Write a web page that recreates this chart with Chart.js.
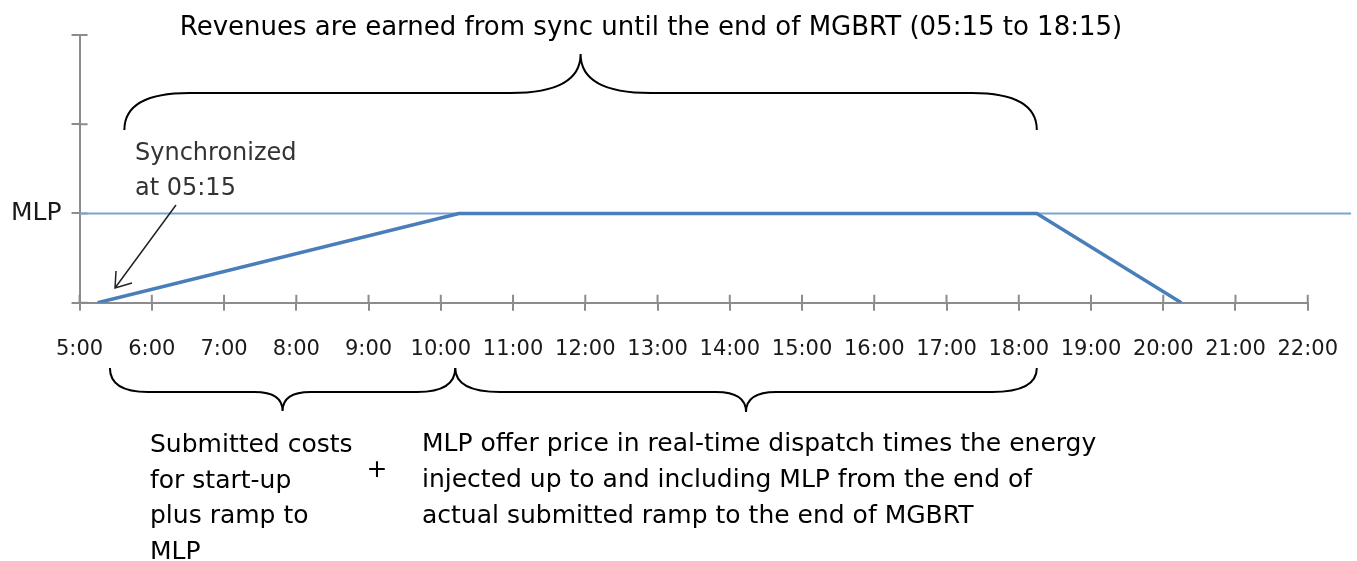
<!DOCTYPE html>
<html>
<head>
<meta charset="utf-8">
<script src="https://cdn.jsdelivr.net/npm/chart.js@4.4.0/dist/chart.umd.min.js"></script>
<style>
  html, body { margin: 0; padding: 0; background: #fff; }
  canvas { display: block; }
</style>
</head>
<body>
<canvas id="mgbrtChart" width="1357" height="561"></canvas>
<script>
// Hours shown on the x axis and their labels
const xTickLabels = ['5:00', '6:00', '7:00', '8:00', '9:00', '10:00', '11:00', '12:00', '13:00',
    '14:00', '15:00', '16:00', '17:00', '18:00', '19:00', '20:00', '21:00', '22:00'];
const yTickLabels = ['', 'MLP', '', ''];

// Unit output profile: sync 05:15, reach MLP 10:15, hold until 18:15, off at 20:15
const rampTimes = [5.25, 10.25, 18.25, 20.25];
const rampOutput = [0, 1, 1, 0];

// MLP reference level (runs past the end of the axis)
const mlpTimes = [5, 22.6];
const mlpLevel = [1, 1];

// Time spans marked by the braces
const revenueSpan = [5.62, 18.25];
const startupSpan = [5.42, 10.2];
const offerSpan = [10.2, 18.25];

const axisColor = '#8c8c8c';
const lineColor = '#4a7ebb';

Chart.defaults.font.family = "'DejaVu Sans', Verdana, sans-serif";
Chart.defaults.color = '#1a1a1a';

function drawBrace(ctx, x1, x2, yEnd, yMid, yTip, r1, r2) {
    const xt = (x1 + x2) / 2;
    ctx.beginPath();
    ctx.moveTo(x1, yEnd);
    ctx.quadraticCurveTo(x1, yMid, x1 + r1, yMid);
    ctx.lineTo(xt - r2, yMid);
    ctx.quadraticCurveTo(xt, yMid, xt, yTip);
    ctx.quadraticCurveTo(xt, yMid, xt + r2, yMid);
    ctx.lineTo(x2 - r1, yMid);
    ctx.quadraticCurveTo(x2, yMid, x2, yEnd);
    ctx.stroke();
}

// Tick marks that cross the axis lines (inner half)
const innerTicks = {
    id: 'innerTicks',
    beforeDatasetsDraw(chart) {
        const ctx = chart.ctx;
        const xs = chart.scales.x;
        const ys = chart.scales.y;
        ctx.save();
        ctx.strokeStyle = axisColor;
        ctx.lineWidth = 2;
        ctx.beginPath();
        xs.ticks.forEach((t, i) => {
            const px = xs.getPixelForTick(i);
            ctx.moveTo(px, ys.bottom);
            ctx.lineTo(px, ys.bottom - 8);
        });
        ys.ticks.forEach((t, i) => {
            const py = ys.getPixelForTick(i);
            ctx.moveTo(xs.left, py);
            ctx.lineTo(xs.left + 8, py);
        });
        ctx.stroke();
        ctx.restore();
    }
};

// Braces, arrow and explanatory text
const annotations = {
    id: 'annotations',
    afterDraw(chart) {
        const ctx = chart.ctx;
        const xs = chart.scales.x;
        ctx.save();

        // braces
        ctx.strokeStyle = '#000';
        ctx.lineWidth = 2;
        drawBrace(ctx, xs.getPixelForValue(revenueSpan[0]), xs.getPixelForValue(revenueSpan[1]), 130, 93, 54, 65, 70);
        drawBrace(ctx, xs.getPixelForValue(startupSpan[0]), xs.getPixelForValue(startupSpan[1]), 368, 392, 411, 38, 28);
        drawBrace(ctx, xs.getPixelForValue(offerSpan[0]), xs.getPixelForValue(offerSpan[1]), 368, 392, 412, 45, 30);

        // arrow to the sync point
        const tipX = 115, tipY = 288;
        ctx.strokeStyle = '#222';
        ctx.lineWidth = 1.5;
        ctx.beginPath();
        ctx.moveTo(176, 205);
        ctx.lineTo(tipX, tipY);
        ctx.moveTo(tipX + 1, tipY - 17);
        ctx.lineTo(tipX, tipY);
        ctx.lineTo(tipX + 17, tipY - 5);
        ctx.stroke();

        // text
        ctx.fillStyle = '#000';
        ctx.textBaseline = 'alphabetic';
        ctx.textAlign = 'center';
        ctx.font = "26px 'DejaVu Sans'";
        ctx.fillText('Revenues are earned from sync until the end of MGBRT (05:15 to 18:15)', 651, 35);

        ctx.textAlign = 'left';
        ctx.fillStyle = '#333';
        ctx.font = "24px 'DejaVu Sans'";
        ctx.fillText('Synchronized', 135, 160);
        ctx.fillText('at 05:15', 135, 195);

        ctx.fillStyle = '#000';
        ctx.font = "25px 'DejaVu Sans'";
        const leftLines = ['Submitted costs', 'for start-up', 'plus ramp to', 'MLP'];
        leftLines.forEach((s, i) => ctx.fillText(s, 150, 452 + i * 35.5));
        const rightLines = ['MLP offer price in real-time dispatch times the energy',
            'injected up to and including MLP from the end of',
            'actual submitted ramp to the end of MGBRT'];
        rightLines.forEach((s, i) => ctx.fillText(s, 422, 451 + i * 36));
        ctx.textAlign = 'center';
        ctx.fillText('+', 377, 477);

        ctx.restore();
    }
};

const ctx = document.getElementById('mgbrtChart').getContext('2d');
const mgbrtChart = new Chart(ctx, {
    type: 'line',
    data: {
        datasets: [
            {
                label: 'MLP',
                data: mlpTimes.map((t, i) => ({x: t, y: mlpLevel[i]})),
                borderColor: '#7aa3d6',
                borderWidth: 2,
                pointRadius: 0,
                clip: false,
                order: 2
            },
            {
                label: 'Output',
                data: rampTimes.map((t, i) => ({x: t, y: rampOutput[i]})),
                borderColor: lineColor,
                borderWidth: 3.5,
                pointRadius: 0,
                tension: 0,
                order: 1
            }
        ]
    },
    options: {
        responsive: false,
        animation: false,
        events: [],
        layout: {
            padding: {left: 1, right: 41, top: 35, bottom: 173}
        },
        plugins: {
            legend: {display: false},
            tooltip: {enabled: false}
        },
        scales: {
            x: {
                type: 'linear',
                min: 5,
                max: 22,
                ticks: {
                    stepSize: 1,
                    padding: 19,
                    maxRotation: 0,
                    autoSkip: false,
                    font: {size: 21, lineHeight: 1.87},
                    callback: (value, index) => xTickLabels[index]
                },
                grid: {
                    drawOnChartArea: false,
                    tickLength: 8,
                    color: axisColor,
                    lineWidth: 2
                },
                border: {color: axisColor, width: 2}
            },
            y: {
                min: 0,
                max: 3,
                ticks: {
                    stepSize: 1,
                    padding: 10,
                    font: {size: 25},
                    callback: (value, index) => yTickLabels[index]
                },
                grid: {
                    drawOnChartArea: false,
                    tickLength: 8,
                    color: axisColor,
                    lineWidth: 2
                },
                border: {color: axisColor, width: 2}
            }
        }
    },
    plugins: [innerTicks, annotations]
});
</script>
</body>
</html>
